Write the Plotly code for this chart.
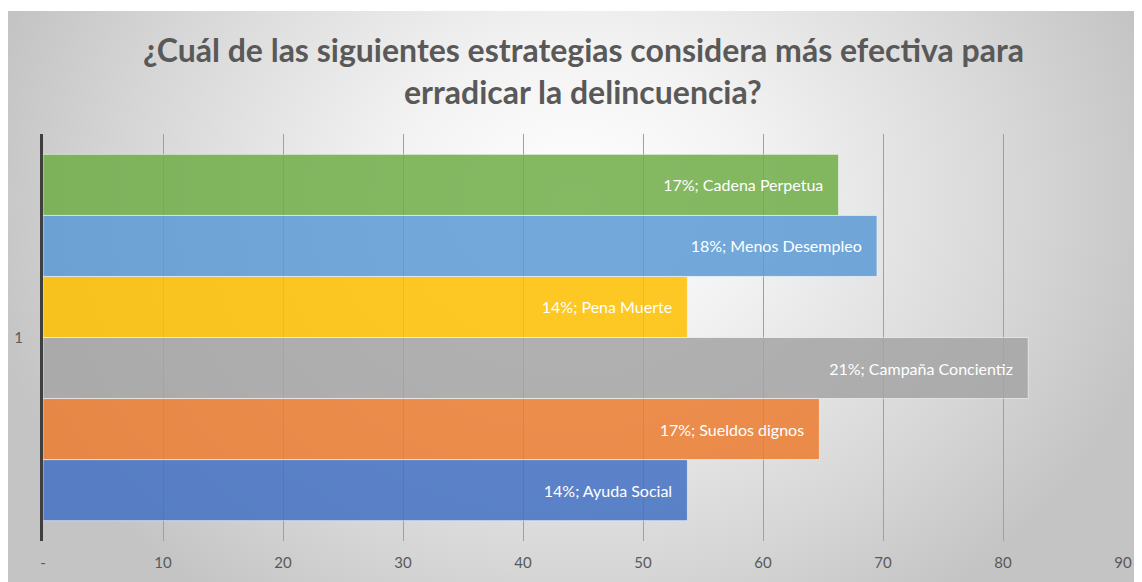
import plotly.graph_objects as go

categories = ["1"]
series_names = ["Ayuda Social", "Sueldos dignos", "Campaña Concientiz", "Pena Muerte", "Menos Desempleo", "Cadena Perpetua"]
series_values = [53.7, 64.7, 82.1, 53.7, 69.5, 66.3]
series_colors = ["#4472C4", "#ED7D31", "#A5A5A5", "#FFC000", "#5B9BD5", "#70AD47"]
x_tickvals = [0, 10, 20, 30, 40, 50, 60, 70, 80, 90]
x_ticktext = ["-", "10", "20", "30", "40", "50", "60", "70", "80", "90"]
title_lines = ["¿Cuál de las siguientes estrategias considera más efectiva para", "erradicar la delincuencia?"]

# page body has an 8px default margin; figure is sized/positioned to compensate
OFF = 8
W, H = 1142 - OFF, 582 - OFF
FONT = "Lato, Open Sans, sans-serif"
total = sum(series_values)


def px(x):
    return (x - OFF) / W


def py(y):
    return 1 - (y - OFF) / H


fig = go.Figure()

# background gradient panel (on its own full-size axes, drawn below)
cx, cy, rx, ry = 0.5, 0.67, 0.53, 0.876
fig.add_trace(go.Scatter(
    x=[cx - rx, cx + rx, cx + rx, cx - rx, cx - rx],
    y=[cy - ry, cy - ry, cy + ry, cy + ry, cy - ry],
    mode="lines", fill="toself",
    line=dict(width=0, color="rgba(0,0,0,0)"),
    fillgradient=dict(type="radial", colorscale=[[0, "#ffffff"], [0.3, "#f3f3f3"], [0.75, "#d6d6d6"], [1, "#c4c4c4"]]),
    hoverinfo="skip", showlegend=False, xaxis="x", yaxis="y",
))

for name, val, col in zip(series_names, series_values, series_colors):
    pct = round(val / total * 100)
    fig.add_trace(go.Bar(
        y=categories, x=[val], orientation="h", name=name,
        marker=dict(color=col, opacity=0.85, line=dict(color="rgba(255,255,255,0.6)", width=1)),
        text=[f"{pct}%; {name}\u00a0\u00a0\u00a0"], textposition="inside", insidetextanchor="end",
        textfont=dict(family=FONT, size=16, color="white"), textangle=0,
        xaxis="x2", yaxis="y2", showlegend=False,
    ))

fig.update_layout(
    width=W, height=H,
    margin=dict(l=0, r=0, t=0, b=0),
    paper_bgcolor="white", plot_bgcolor="rgba(0,0,0,0)",
    barmode="group", bargap=0.1, bargroupgap=0,
    xaxis=dict(domain=[0, 1], range=[0, 1], visible=False, fixedrange=True),
    yaxis=dict(domain=[0, py(11)], range=[0, 1], visible=False, fixedrange=True),
    xaxis2=dict(domain=[px(43), px(1123)], range=[0, 90], anchor="y2", automargin=False,
                tickvals=x_tickvals, ticktext=x_ticktext,
                showgrid=True, gridcolor="#a0a0a0", gridwidth=1,
                zeroline=False, showline=False, ticks="", ticklabelstandoff=11,
                tickfont=dict(family=FONT, size=15, color="#595959")),
    yaxis2=dict(domain=[py(541), py(134)], anchor="x2", automargin=False,
                showline=True, linecolor="#3f3f3f", linewidth=3,
                showgrid=False, ticks="", ticklabelstandoff=14,
                tickfont=dict(family=FONT, size=15, color="#595959")),
    annotations=[
        dict(text=title_lines[0], xref="paper", yref="paper", x=px(583), y=py(50),
             xanchor="center", yanchor="middle", showarrow=False,
             font=dict(family=FONT, size=32, color="#595959", weight="bold")),
        dict(text=title_lines[1], xref="paper", yref="paper", x=px(583), y=py(91),
             xanchor="center", yanchor="middle", showarrow=False,
             font=dict(family=FONT, size=32, color="#595959", weight="bold")),
    ],
    font=dict(family=FONT),
)

fig.write_html("out.html")
